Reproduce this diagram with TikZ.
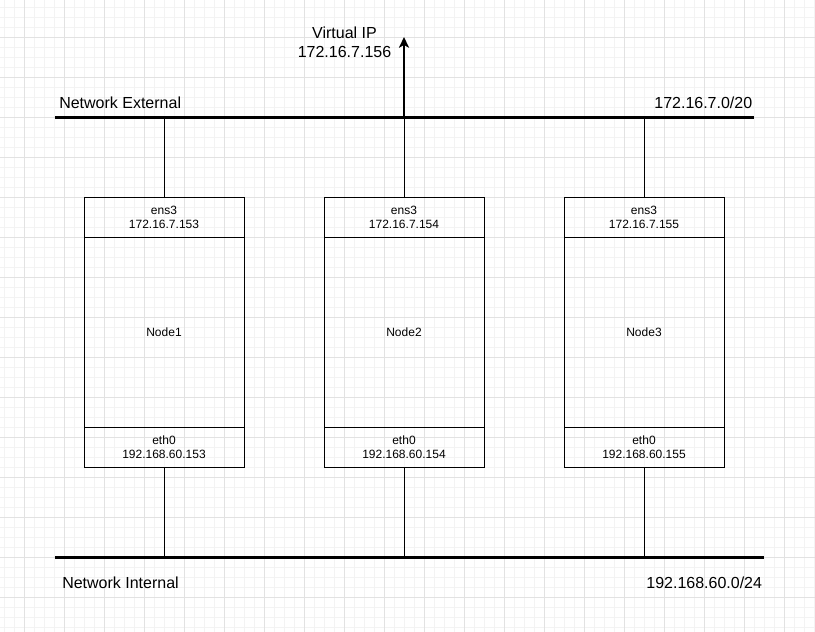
\documentclass[tikz,border=0pt]{standalone}
\usepackage{fontspec}
\setmainfont{Liberation Sans}
\usetikzlibrary{arrows.meta}
\definecolor{gridminor}{RGB}{243,243,243}
\definecolor{gridmajor}{RGB}{226,226,226}
\begin{document}
\begin{tikzpicture}[
  x=0.75pt, y=-0.75pt,
  gridline/.style={line width=0.75pt},
  bar/.style={line width=2.25pt},
  link/.style={line width=0.75pt},
  uplink/.style={line width=1.5pt, -{Stealth[length=8pt, width=7.5pt, inset=2pt]}},
  port/.style={draw, line width=0.75pt, minimum width=120pt, minimum height=30pt,
    inner sep=0pt, align=center, font=\fontsize{9}{10.7}\selectfont},
  hostbody/.style={draw, line width=0.75pt, minimum width=120pt, minimum height=142.5pt,
    inner sep=0pt, font=\fontsize{9}{10.7}\selectfont},
  netlabel/.style={inner sep=0pt, font=\fontsize{12}{14.25}\selectfont, align=center}
]
% canvas and grid
\useasboundingbox (0,0) rectangle (815,632);
\fill[white] (0,0) rectangle (815,632);
\foreach \x in {4,14,...,814} \draw[gridline, gridminor] (\x,0) -- (\x,632);
\foreach \y in {7.3,17.3,...,630} \draw[gridline, gridminor] (0,\y) -- (815,\y);
\foreach \x in {24,64,...,814} \draw[gridline, gridmajor] (\x,0) -- (\x,632);
\foreach \y in {37.3,77.3,...,630} \draw[gridline, gridmajor] (0,\y) -- (815,\y);

% network buses
\coordinate (ext-w) at (55,117.5);
\coordinate (ext-e) at (754,117.5);
\coordinate (int-w) at (55,557);
\coordinate (int-e) at (764,557);
\coordinate (vip) at (404,37);

% hosts
\foreach \i/\cx/\ip in {1/164/153, 2/404/154, 3/644/155} {
  \node[port] (n\i-ens) at (\cx,217) {ens3\\172.16.7.\ip};
  \node[hostbody] (n\i-body) at (\cx,332) {Node\i};
  \node[port] (n\i-eth) at (\cx,447) {eth0\\192.168.60.\ip};
}

% links from hosts to the buses
\foreach \i in {1,2,3} {
  \draw[link] (n\i-ens.north) -- (n\i-ens.north |- ext-w);
  \draw[link] (n\i-eth.south) -- (n\i-eth.south |- int-w);
}
\draw[bar] (ext-w) -- (ext-e);
\draw[bar] (int-w) -- (int-e);
\draw[uplink] (n2-ens.north |- ext-w) -- (vip);

% labels
\node[netlabel, anchor=base west] (ext-name) at (59,108) {Network External};
\node[netlabel, anchor=base east] (ext-net) at (752.5,108) {172.16.7.0/20};
\node[netlabel, anchor=base west] (int-name) at (62,588) {Network Internal};
\node[netlabel, anchor=base east] (int-net) at (762.3,588) {192.168.60.0/24};
\node[netlabel] (vip-label) at (344.5,42) {Virtual IP\\172.16.7.156};
\end{tikzpicture}
\end{document}
